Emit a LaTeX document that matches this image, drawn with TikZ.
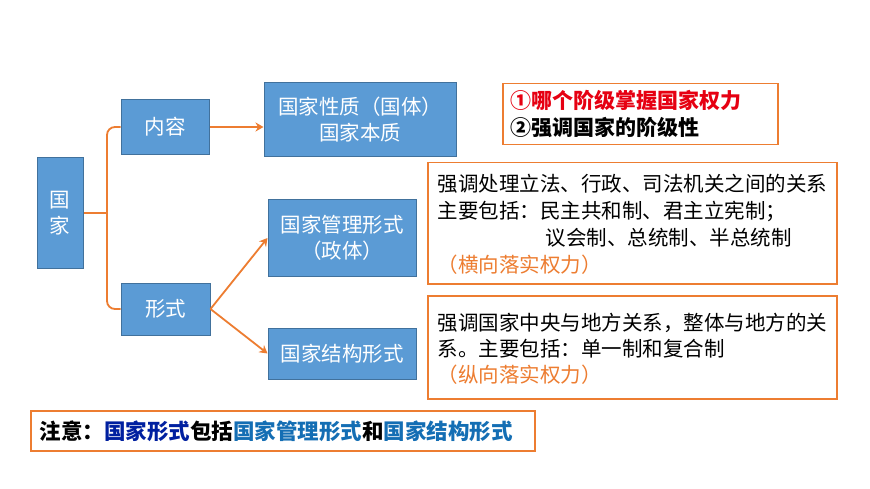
\documentclass[tikz,border=0pt]{standalone}
\usepackage{fontspec}
\setmainfont{Noto Sans CJK SC}
\usetikzlibrary{arrows.meta,positioning}
\definecolor{gjblue}{RGB}{91,155,213}
\definecolor{gjedge}{RGB}{65,113,156}
\definecolor{gjorange}{RGB}{237,125,49}
\definecolor{gjred}{RGB}{230,0,18}
\definecolor{gjnavy}{RGB}{0,32,160}
\definecolor{gjsky}{RGB}{20,110,180}
\begin{document}
\begin{tikzpicture}[x=1pt,y=-1pt,
  bluebox/.style={draw=gjedge, line width=1pt, fill=gjblue, text=white, font=\fontsize{20.5}{26}\selectfont, align=center, inner sep=0pt},
  notebox/.style={draw=gjorange, line width=1.5pt, anchor=north west, inner sep=0pt},
  link/.style={gjorange, line width=1.8pt},
  arr/.style={link, -{Stealth[length=8pt,width=9pt]}}]
\useasboundingbox[fill=white] (0,0) rectangle (870,489);
% Blue boxes
\node[bluebox, minimum width=46, minimum height=110] (guojia) at (60,213) {国\\家};
\node[bluebox, minimum width=88, minimum height=55] (neirong) at (165,127) {内容};
\node[bluebox, minimum width=89, minimum height=52] (xingshi) at (165.5,309) {形式};
\node[bluebox, minimum width=192, minimum height=74] (xingzhi) at (360,120) {国家性质（国体）\\国家本质};
\node[bluebox, minimum width=148, minimum height=76] (guanli) at (342,238) {国家管理形式\\（政体）};
\node[bluebox, minimum width=148, minimum height=51] (jiegou) at (342,353.5) {国家结构形式};
% Orange note boxes
\node[notebox, minimum width=275, minimum height=61] (jieji) at (502,83) {};
\node[anchor=west, align=left, font=\fontsize{21}{27}\selectfont\bfseries] at (507,114)
  {\textcolor{gjred}{①哪个阶级掌握国家权力}\\②强调国家的阶级性};
\node[notebox, minimum width=409, minimum height=121] (hengxiang) at (427,162) {};
\node[anchor=north west, align=left, font=\fontsize{20.5}{27}\selectfont] at (434,171)
  {强调处理立法、行政、司法机关之间的关系\\主要包括：民主共和制、君主立宪制；\\\hspace*{108pt}议会制、总统制、半总统制\\\textcolor{gjorange}{（横向落实权力）}};
\node[notebox, minimum width=409, minimum height=103] (zongxiang) at (427,295) {};
\node[anchor=north west, align=left, font=\fontsize{20.5}{26}\selectfont] at (434,310)
  {强调国家中央与地方关系，整体与地方的关\\系。主要包括：单一制和复合制\\\textcolor{gjorange}{（纵向落实权力）}};
\node[notebox, minimum width=504, minimum height=40] (zhuyi) at (30,410) {};
\node[anchor=west, font=\fontsize{21.5}{24}\selectfont\bfseries] at (36,431)
  {注意：\textcolor{gjnavy}{国家形式}包括\textcolor{gjsky}{国家管理形式}和\textcolor{gjsky}{国家结构形式}};
% Connectors
\coordinate (fork) at (107,213);
\draw[link] (guojia.east) -- (fork);
\draw[link, rounded corners=8pt] (neirong.west) -| (fork) |- (xingshi.west);
\draw[arr] (neirong.east) -- (xingzhi.west |- neirong.east);
\draw[arr] (xingshi.east) -- (guanli.west);
\draw[arr] (xingshi.east) -- (jiegou.west);
\end{tikzpicture}
\end{document}
